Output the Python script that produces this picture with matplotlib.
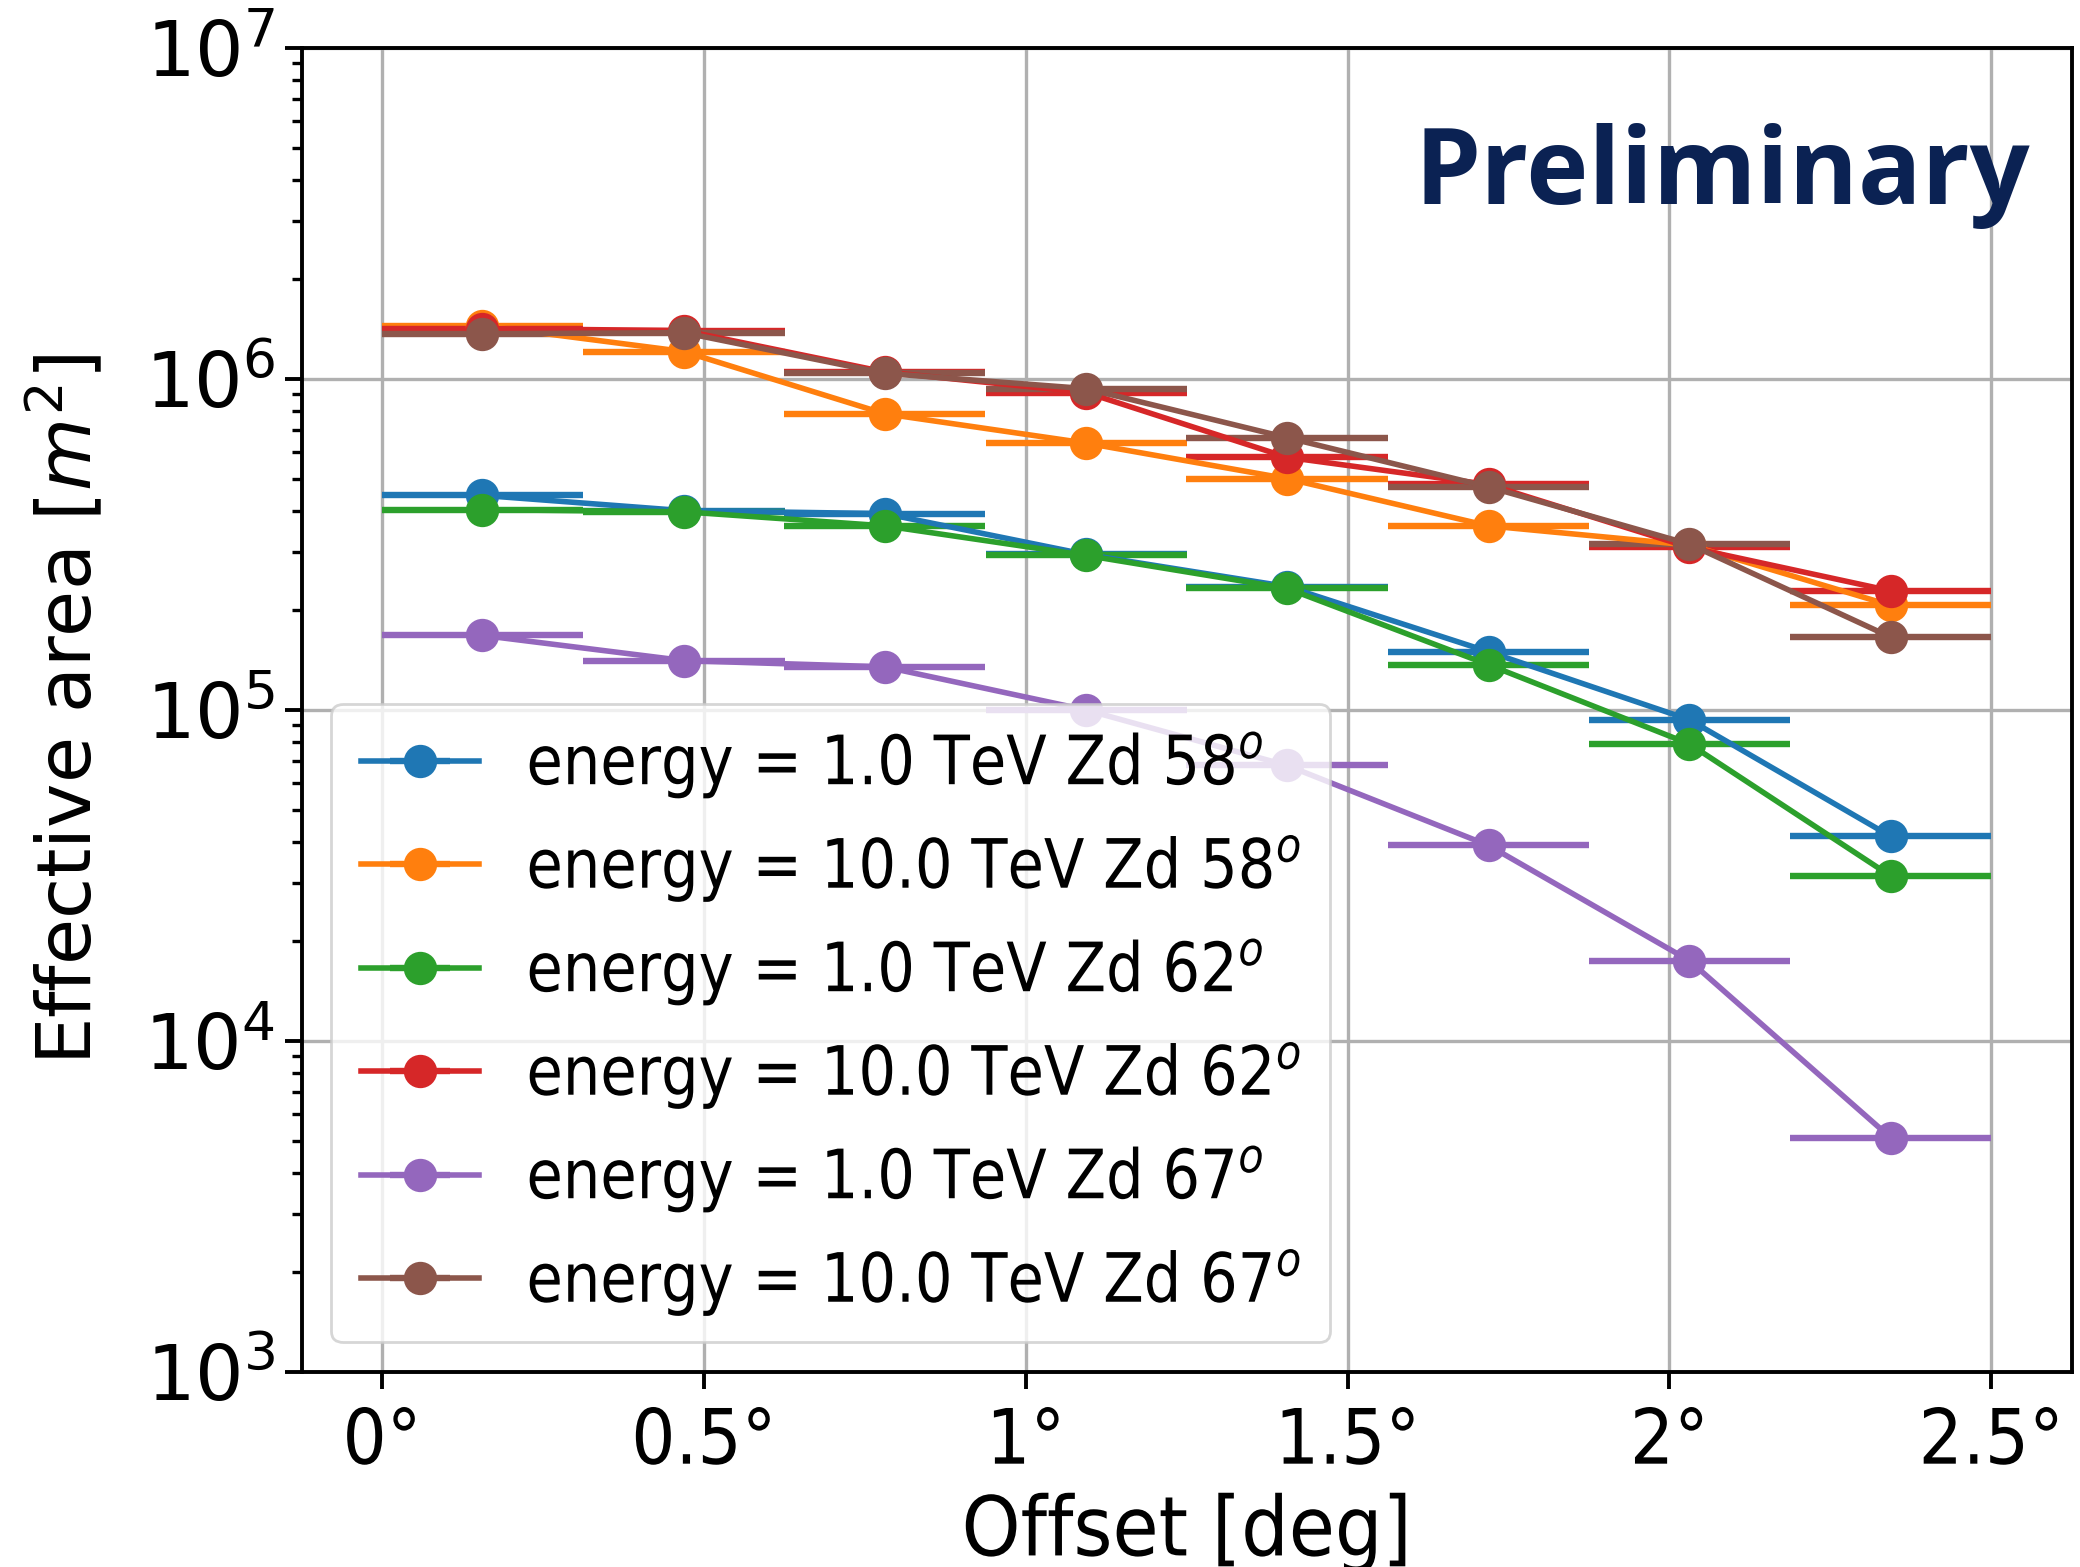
import numpy as np
import matplotlib
matplotlib.use("Agg")
from matplotlib import pyplot as plt
from matplotlib import patheffects
from matplotlib.transforms import Affine2D
from matplotlib.ticker import FuncFormatter, LogLocator

# offset bin centres (deg) and half bin width
offset = [0.156, 0.469, 0.781, 1.094, 1.406, 1.719, 2.031, 2.344]
half_bin = 0.15625

# effective area per offset bin [m^2]
aeff_1tev_zd58 = [4.45e5, 4.0e5, 3.92e5, 2.95e5, 2.36e5, 1.50e5, 9.35e4, 4.15e4]
aeff_10tev_zd58 = [1.45e6, 1.21e6, 7.85e5, 6.4e5, 5.0e5, 3.6e5, 3.15e5, 2.07e5]
aeff_1tev_zd62 = [4.03e5, 3.97e5, 3.6e5, 2.93e5, 2.33e5, 1.37e5, 7.9e4, 3.15e4]
aeff_10tev_zd62 = [1.42e6, 1.40e6, 1.05e6, 9.1e5, 5.8e5, 4.8e5, 3.1e5, 2.29e5]
aeff_1tev_zd67 = [1.68e5, 1.41e5, 1.35e5, 1.0e5, 6.8e4, 3.9e4, 1.75e4, 5.1e3]
aeff_10tev_zd67 = [1.37e6, 1.38e6, 1.04e6, 9.35e5, 6.65e5, 4.72e5, 3.17e5, 1.66e5]

labels = [
    "energy = 1.0 TeV Zd 58$^o$",
    "energy = 10.0 TeV Zd 58$^o$",
    "energy = 1.0 TeV Zd 62$^o$",
    "energy = 10.0 TeV Zd 62$^o$",
    "energy = 1.0 TeV Zd 67$^o$",
    "energy = 10.0 TeV Zd 67$^o$",
]
curves = [aeff_1tev_zd58, aeff_10tev_zd58, aeff_1tev_zd62,
          aeff_10tev_zd62, aeff_1tev_zd67, aeff_10tev_zd67]


class Tall(patheffects.AbstractPathEffect):
    """Draw text glyphs stretched vertically about mid cap height."""

    def __init__(self, sy=1.15, mid=36):
        super().__init__()
        self.sy = sy
        self.mid = mid

    def draw_path(self, renderer, gc, tpath, affine, rgbFace=None):
        pre = Affine2D().translate(0, -self.mid).scale(1, self.sy).translate(0, self.mid)
        renderer.draw_path(gc, tpath, pre + affine, rgbFace)


plt.rcParams["font.family"] = "DejaVu Sans"

fig = plt.figure(figsize=(10.4, 7.835), dpi=200)
ax = fig.add_axes([0.145, 0.1244, 0.851, 0.845])

for vals, lab in zip(curves, labels):
    ax.errorbar(offset, vals, xerr=half_bin, fmt="o-", label=lab,
                markersize=11, linewidth=2.0, elinewidth=2.3)

ax.set_yscale("log")
ax.set_ylim(1e3, 1e7)
ax.set_xlim(-0.125, 2.625)
ax.set_xticks([0, 0.5, 1.0, 1.5, 2.0, 2.5])
ax.xaxis.set_major_formatter(FuncFormatter(lambda v, p: f"{v:g}°"))
ax.yaxis.set_minor_locator(LogLocator(base=10, subs=np.arange(2, 10), numticks=20))

ax.grid(True, which="major", color="#b0b0b0", linewidth=1.2)
ax.tick_params(axis="both", which="major", length=6, width=1.4)
ax.tick_params(axis="x", labelsize=25, pad=7)
ax.tick_params(axis="y", labelsize=27.5)
ax.tick_params(axis="both", which="minor", length=3.5, width=1.2)
for sp in ax.spines.values():
    sp.set_linewidth(1.4)

for t in ax.get_xticklabels():
    t.set_path_effects([Tall(1.1)])

xl = ax.set_xlabel("Offset [deg]", fontsize=27, labelpad=7.4)
xl.set_path_effects([Tall(1.1)])
ax.set_ylabel("Effective area [$m^2$]", fontsize=27, labelpad=13)

leg = ax.legend(loc="lower left", fontsize=21.3, handlelength=2.0,
                labelspacing=0.71, borderpad=0.5)
for t in leg.get_texts():
    t.set_path_effects([Tall(1.15)])

fig.text(2030 / 2080, 1 - 204 / 1567, "Preliminary", ha="right", va="baseline",
         fontsize=38, fontweight="bold", family="Open Sans", color="#0b2253")

fig.savefig("out.png", dpi=200)
